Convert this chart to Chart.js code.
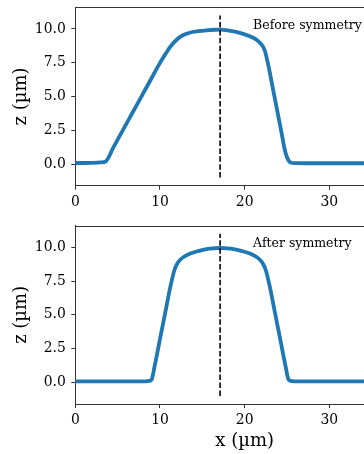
<!DOCTYPE html>
<html>
<head>
<meta charset="utf-8">
<script src="https://cdn.jsdelivr.net/npm/chart.js@4/dist/chart.umd.min.js"></script>
<style>
  html, body { margin: 0; padding: 0; background: #fff; width: 364px; height: 454px; overflow: hidden; }
  canvas { position: absolute; left: 0; }
  #c1 { top: 0; }
  #c2 { top: 215px; }
</style>
</head>
<body>
<canvas id="c1" width="430" height="215"></canvas>
<canvas id="c2" width="430" height="239"></canvas>
<script>
// ---- data ----
const xBefore = [0,1,2,3,3.6,4.5,5.7,6.8,7.9,9,9.9,10.6,11.3,12,12.7,13.5,14.5,15.5,16.5,17.1,18,19,20,21,21.6,22.1,22.4,22.8,23.3,23.8,24.3,24.8,25.2,25.5,26,28,30,32,34,36,38,40];
const zBefore = [0.08,0.08,0.09,0.12,0.2,1.23,2.6,3.85,5.1,6.35,7.38,8.1,8.75,9.22,9.53,9.72,9.83,9.9,9.94,9.95,9.9,9.78,9.6,9.35,9.1,8.75,8.35,7.3,5.7,4.1,2.5,0.9,0.25,0.1,0.07,0.06,0.06,0.06,0.06,0.06,0.06,0.06];
const xAfter = [0,2,4,6,8,8.6,9.0,9.4,10,10.6,11.2,11.7,12.1,12.6,13.5,14.5,15.5,16.5,17.1,17.7,18.7,19.7,20.7,21.6,22.1,22.5,23.0,23.6,24.2,24.8,25.2,25.6,26.2,28,30,32,34,36,38,40];
const zAfter = [0.08,0.08,0.08,0.08,0.08,0.1,0.2,1.3,3.2,5.1,7.0,8.3,8.85,9.2,9.52,9.72,9.87,9.93,9.95,9.93,9.87,9.72,9.52,9.2,8.85,8.3,7.0,5.1,3.2,1.3,0.2,0.1,0.08,0.08,0.08,0.08,0.08,0.08,0.08,0.08];
const cutX = 17.1;
const cutZ = [-1, 11];
const zTicks = [0, 2.5, 5, 7.5, 10];
const xTicks = [0, 10, 20, 30, 40];
const panelLabels = ['Before symmetry', 'After symmetry'];
const labelAt = [21, 10];
const xTitle = 'x (\u00b5m)';
const zTitle = 'z (\u00b5m)';

const SERIF = "'DejaVu Serif', serif";
const SPINE = '#333';

function pts(xs, ys) { return xs.map((x, i) => ({x: x, y: ys[i]})); }

const framePlugin = {
  id: 'frame',
  afterDatasetsDraw(chart) {
    const {ctx, chartArea: a, scales} = chart;
    ctx.save();
    ctx.strokeStyle = SPINE;
    ctx.lineWidth = 1;
    ctx.beginPath();
    ctx.moveTo(a.left, Math.round(a.top) + 0.5);
    ctx.lineTo(a.right, Math.round(a.top) + 0.5);
    ctx.stroke();
    const t = chart.options.plugins.frame.text;
    ctx.fillStyle = '#000';
    ctx.font = '12.5px ' + SERIF;
    ctx.textBaseline = 'alphabetic';
    ctx.textAlign = 'left';
    ctx.fillText(t, scales.x.getPixelForValue(labelAt[0]), scales.y.getPixelForValue(labelAt[1]));
    ctx.restore();
  }
};

function makeChart(id, xs, zs, text, padTop, xAxisH, showXTitle) {
  return new Chart(document.getElementById(id), {
    type: 'line',
    data: {
      datasets: [
        {
          data: pts([cutX, cutX], cutZ),
          borderColor: '#000', borderWidth: 1.6, borderDash: [5.5, 2.4],
          pointRadius: 0, order: 0, tension: 0
        },
        {
          data: pts(xs, zs),
          borderColor: '#1f77b4', borderWidth: 3.8, pointRadius: 0,
          cubicInterpolationMode: 'monotone', order: 1, borderCapStyle: 'round', borderJoinStyle: 'round'
        }
      ]
    },
    options: {
      responsive: false, animation: false, devicePixelRatio: 1,
      layout: { padding: { left: 0, top: padTop, right: 16, bottom: 0 } },
      plugins: { legend: { display: false }, tooltip: { enabled: false }, frame: { text: text } },
      scales: {
        x: {
          type: 'linear', min: 0, max: 40,
          afterBuildTicks: s => { s.ticks = xTicks.map(v => ({value: v})); },
          afterFit: s => { s.height = xAxisH; s.paddingLeft = 0; s.paddingRight = 0; },
          grid: { drawOnChartArea: false, drawTicks: true, tickLength: 4, tickColor: SPINE, tickWidth: 1 },
          border: { display: true, color: SPINE, width: 1 },
          ticks: { color: '#000', padding: 4, maxRotation: 0, font: { family: SERIF, size: 13.9 }, callback: v => String(v) },
          title: { display: showXTitle, text: xTitle, color: '#000', font: { family: SERIF, size: 18 }, padding: { top: 0, bottom: 1.5 } }
        },
        y: {
          type: 'linear', min: -1.6, max: 11.6,
          afterBuildTicks: s => { s.ticks = zTicks.map(v => ({value: v})); },
          afterFit: s => { s.width = 75.3; s.paddingTop = 0; s.paddingBottom = 0; },
          grid: { drawOnChartArea: false, drawTicks: true, tickLength: 4, tickColor: SPINE, tickWidth: 1 },
          border: { display: true, color: SPINE, width: 1 },
          ticks: { color: '#000', padding: 5.5, font: { family: SERIF, size: 13.9 }, callback: v => Number(v).toFixed(1) },
          title: { display: true, text: zTitle, color: '#000', font: { family: SERIF, size: 18 }, padding: { top: 10.5, bottom: 0 } }
        }
      }
    },
    plugins: [framePlugin]
  });
}

makeChart('c1', xBefore, zBefore, panelLabels[0], 7.3, 29.3, false);
makeChart('c2', xAfter, zAfter, panelLabels[1], 10.7, 50, true);
</script>
</body>
</html>
